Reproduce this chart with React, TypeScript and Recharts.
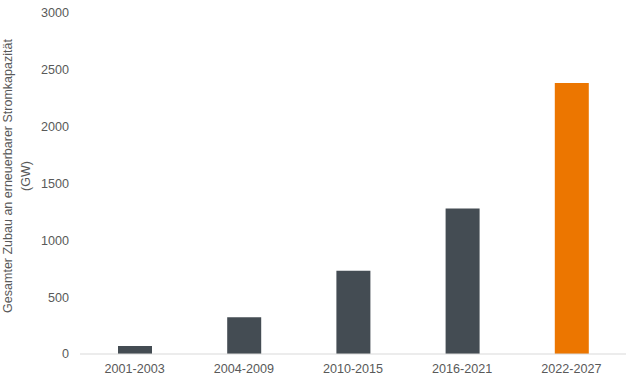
import React from "react";
import { BarChart, Bar, XAxis, YAxis, Cell, Label } from "recharts";

const categories = ["2001-2003", "2004-2009", "2010-2015", "2016-2021", "2022-2027"];
const capacityGw = [70, 323, 733, 1281, 2385];
const barColors = ["#444c53", "#444c53", "#444c53", "#444c53", "#ec7600"];
const yTicks = [0, 500, 1000, 1500, 2000, 2500, 3000];

const data = categories.map((period, i) => ({ period, value: capacityGw[i] }));

const TEXT_COLOR = "#595959";
const FONT = "'Liberation Sans', Arial, sans-serif";

// zweizeiliger, gedrehter Achsentitel
function YAxisTitle() {
  const cy = 176;
  return (
    <g fill={TEXT_COLOR} fontSize={12.5} fontFamily={FONT} textAnchor="middle">
      <text transform={`translate(12, ${cy}) rotate(-90)`}>
        Gesamter Zubau an erneuerbarer Stromkapazität
      </text>
      <text transform={`translate(30, ${cy}) rotate(-90)`}>(GW)</text>
    </g>
  );
}

export default function App() {
  return (
    <div style={{ position: "absolute", left: 0, top: 0, width: 640, height: 383, background: "#fff" }}>
      <BarChart
        width={640}
        height={383}
        data={data}
        margin={{ top: 13, right: 14, left: 0, bottom: 0 }}
        style={{ fontFamily: FONT }}
      >
        <XAxis
          dataKey="period"
          height={29}
          tick={{ fontSize: 12.6, fill: TEXT_COLOR, fontFamily: FONT }}
          axisLine={{ stroke: "#d9d9d9" }}
          tickLine={false}
          tickMargin={4}
        />
        <YAxis
          domain={[0, 3000]}
          ticks={yTicks}
          width={80}
          tick={{ fontSize: 12.6, fill: TEXT_COLOR, fontFamily: FONT }}
          axisLine={false}
          tickLine={false}
          tickMargin={5}
        >
          <Label content={() => <YAxisTitle />} />
        </YAxis>
        <Bar dataKey="value" barSize={34} isAnimationActive={false}>
          {data.map((d, i) => (
            <Cell key={d.period} fill={barColors[i]} />
          ))}
        </Bar>
      </BarChart>
    </div>
  );
}
